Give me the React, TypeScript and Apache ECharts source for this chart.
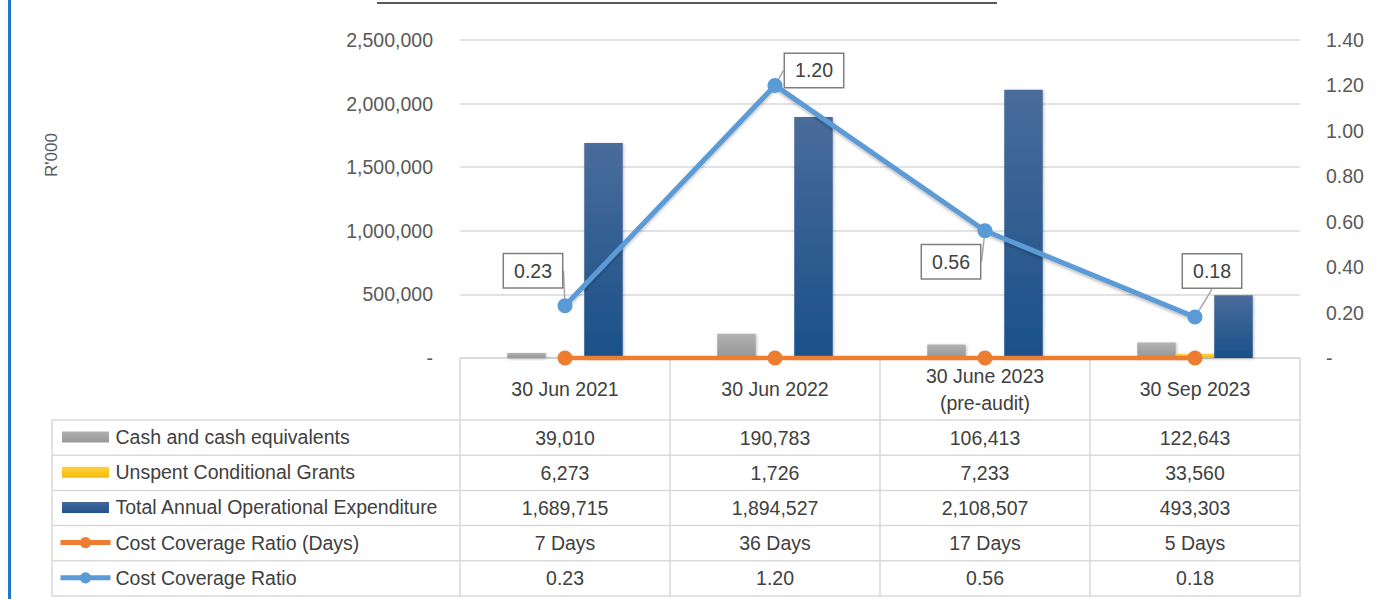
import React, { useEffect, useRef } from 'react';
import * as echarts from 'echarts';

const categories = ['30 Jun 2021', '30 Jun 2022', '30 June 2023\n(pre-audit)', '30 Sep 2023'];
const cashValues = [39010, 190783, 106413, 122643];
const grantValues = [6273, 1726, 7233, 33560];
const expenditureValues = [1689715, 1894527, 2108507, 493303];
const coverageDays = [7, 36, 17, 5];
const coverageRatio = [0.23, 1.2, 0.56, 0.18];
const seriesNames = [
  'Cash and cash equivalents',
  'Unspent Conditional Grants',
  'Total Annual Operational Expenditure',
  'Cost Coverage Ratio (Days)',
  'Cost Coverage Ratio',
];
const leftAxisName = "R'000";

// label box offsets (style only)
const labelOffsets = [
  [-32, -35],
  [39, -15],
  [-34, 31],
  [17, -46],
];

const FONT = 'Liberation Sans';
const GRID_LEFT = 460;
const GRID_RIGHT = 1300;
const GRID_TOP = 40;
const AXIS_Y = 358;
const HEADER_BOTTOM = 420;
const ROW_H = 35.2;
const TABLE_LEFT = 52;
const W = 1376;
const H = 599;

const fmt = (v: number) => v.toLocaleString('en-US');

export default function App() {
  const ref = useRef<HTMLDivElement>(null);
  useEffect(() => {
    if (!ref.current) return;
    const chart = echarts.init(ref.current, null, { renderer: 'svg' });
    const grad = (top: string, bottom: string) =>
      new echarts.graphic.LinearGradient(0, 0, 0, 1, [
        { offset: 0, color: top },
        { offset: 1, color: bottom },
      ]);
    const barShadow = {
      shadowColor: 'rgba(0,0,0,0.25)',
      shadowBlur: 3,
      shadowOffsetX: 1,
      shadowOffsetY: 1,
    };
    const barColors = [
      grad('#b2b2b2', '#969696'),
      grad('#ffd34d', '#f5b800'),
      grad('#496c9b', '#1a5089'),
    ];
    const legendData = seriesNames.map((name, i) =>
      i < 3
        ? {
            name,
            icon: 'rect',
            itemStyle: { color: barColors[i], borderColor: '#ffffff', borderWidth: 3, shadowBlur: 0 },
          }
        : { name, lineStyle: { width: 5, shadowBlur: 0 }, itemStyle: { shadowBlur: 0 } }
    );
    chart.setOption({
      animation: false,
      backgroundColor: '#ffffff',
      textStyle: { fontFamily: FONT },
      grid: {
        left: GRID_LEFT,
        right: W - GRID_RIGHT,
        top: GRID_TOP,
        bottom: H - AXIS_Y,
        containLabel: false,
      },
      legend: {
        orient: 'vertical',
        left: 58,
        top: 427,
        padding: 0,
        itemWidth: 50,
        itemHeight: 14,
        itemGap: 15.2,
        selectedMode: false,
        textStyle: { fontFamily: FONT, fontSize: 19.5, lineHeight: 20, color: '#404040' },
        data: legendData,
      },
      xAxis: {
        type: 'category',
        data: categories,
        axisLine: { show: true, lineStyle: { color: '#d9d9d9', width: 1.5 } },
        axisTick: { show: false },
        axisLabel: {
          interval: 0,
          margin: 31,
          verticalAlign: 'middle',
          fontFamily: FONT,
          fontSize: 19.5,
          lineHeight: 27,
          color: '#404040',
        },
      },
      yAxis: [
        {
          type: 'value',
          min: 0,
          max: 2500000,
          interval: 500000,
          axisLine: { show: false },
          axisTick: { show: false },
          splitLine: { lineStyle: { color: '#d9d9d9', width: 1.5 } },
          axisLabel: {
            margin: 27,
            fontFamily: FONT,
            fontSize: 19.5,
            color: '#595959',
            formatter: (v: number) => (v === 0 ? '-' : fmt(v)),
          },
        },
        {
          type: 'value',
          position: 'right',
          min: 0,
          max: 1.4,
          interval: 0.2,
          axisLine: { show: false },
          axisTick: { show: false },
          splitLine: { show: false },
          axisLabel: {
            margin: 26,
            fontFamily: FONT,
            fontSize: 19.5,
            color: '#595959',
            formatter: (v: number) => (v === 0 ? '-' : v.toFixed(2)),
          },
        },
      ],
      series: [
        {
          name: seriesNames[0],
          type: 'bar',
          data: cashValues,
          barGap: '0%',
          barCategoryGap: '45%',
          itemStyle: { color: barColors[0], ...barShadow },
        },
        {
          name: seriesNames[1],
          type: 'bar',
          data: grantValues,
          barGap: '0%',
          barCategoryGap: '45%',
          itemStyle: { color: barColors[1], ...barShadow },
        },
        {
          name: seriesNames[2],
          type: 'bar',
          data: expenditureValues,
          barGap: '0%',
          barCategoryGap: '45%',
          itemStyle: { color: barColors[2], ...barShadow },
        },
        {
          name: seriesNames[3],
          type: 'line',
          yAxisIndex: 0,
          data: coverageDays,
          clip: false,
          z: 5,
          symbol: 'circle',
          symbolSize: 15,
          itemStyle: { color: '#ed7d31' },
          lineStyle: {
            color: '#ed7d31',
            width: 4.5,
          },
        },
        {
          name: seriesNames[4],
          type: 'line',
          yAxisIndex: 1,
          data: coverageRatio,
          clip: false,
          z: 6,
          symbol: 'circle',
          symbolSize: 15,
          itemStyle: { color: '#5b9bd5' },
          lineStyle: {
            color: '#5b9bd5',
            width: 5,
            shadowColor: 'rgba(0,0,0,0.25)',
            shadowBlur: 3,
            shadowOffsetY: 2,
          },
          label: {
            show: true,
            position: 'inside',
            formatter: (p: any) => Number(p.value).toFixed(2),
            fontFamily: FONT,
            fontSize: 19.5,
            color: '#404040',
            backgroundColor: '#ffffff',
            borderColor: '#7f7f7f',
            borderWidth: 1.5,
            padding: [7, 10, 6, 10],
          },
          labelLine: {
            show: true,
            lineStyle: { color: '#a6a6a6', width: 1.5 },
          },
          labelLayout: (params: any) => {
            const o = labelOffsets[params.dataIndex] || [0, 0];
            return { dx: o[0], dy: o[1] };
          },
        },
      ],
    });

    // Data table below the plot
    const centers = categories.map((_, i) =>
      chart.convertToPixel({ xAxisIndex: 0 }, i) as number
    );
    const colW = (GRID_RIGHT - GRID_LEFT) / categories.length;
    const rows: string[][] = [
      cashValues.map(fmt),
      grantValues.map(fmt),
      expenditureValues.map(fmt),
      coverageDays.map((d) => `${d} Days`),
      coverageRatio.map((r) => r.toFixed(2)),
    ];
    const tableBottom = HEADER_BOTTOM + ROW_H * rows.length;
    const lineStyle = { stroke: '#d9d9d9', lineWidth: 1.5 };
    const graphics: any[] = [];
    for (let r = 0; r <= rows.length; r++) {
      const y = HEADER_BOTTOM + ROW_H * r;
      graphics.push({
        type: 'line',
        z: -1,
        shape: { x1: TABLE_LEFT, y1: y, x2: GRID_RIGHT, y2: y },
        style: lineStyle,
      });
    }
    graphics.push({
      type: 'line',
      z: -1,
      shape: { x1: TABLE_LEFT, y1: HEADER_BOTTOM, x2: TABLE_LEFT, y2: tableBottom },
      style: lineStyle,
    });
    for (let c = 0; c <= categories.length; c++) {
      const x = GRID_LEFT + colW * c;
      graphics.push({
        type: 'line',
        z: -1,
        shape: { x1: x, y1: AXIS_Y + 1, x2: x, y2: tableBottom },
        style: lineStyle,
      });
    }
    rows.forEach((row, r) => {
      row.forEach((txt, c) => {
        graphics.push({
          type: 'text',
          x: centers[c],
          y: HEADER_BOTTOM + ROW_H * r + ROW_H / 2,
          style: {
            text: txt,
            fontFamily: FONT,
            fontSize: 19.5,
            fill: '#404040',
            align: 'center',
            verticalAlign: 'middle',
          },
        });
      });
    });
    graphics.push({
      type: 'rect',
      shape: { x: 8, y: 0, width: 3, height: H },
      style: { fill: '#1f77c9' },
    });
    graphics.push({
      type: 'line',
      shape: { x1: 377, y1: 3, x2: 997, y2: 3 },
      style: { stroke: '#595959', lineWidth: 2 },
    });
    graphics.push({
      type: 'text',
      x: 51,
      y: 155,
      rotation: Math.PI / 2,
      style: {
        text: leftAxisName,
        fontFamily: FONT,
        fontSize: 17,
        fill: '#595959',
        align: 'center',
        verticalAlign: 'middle',
      },
    });
    chart.setOption({ graphic: graphics });

    return () => chart.dispose();
  }, []);
  return (
    <div
      ref={ref}
      style={{ position: 'fixed', left: 0, top: 0, width: W, height: H }}
    />
  );
}
